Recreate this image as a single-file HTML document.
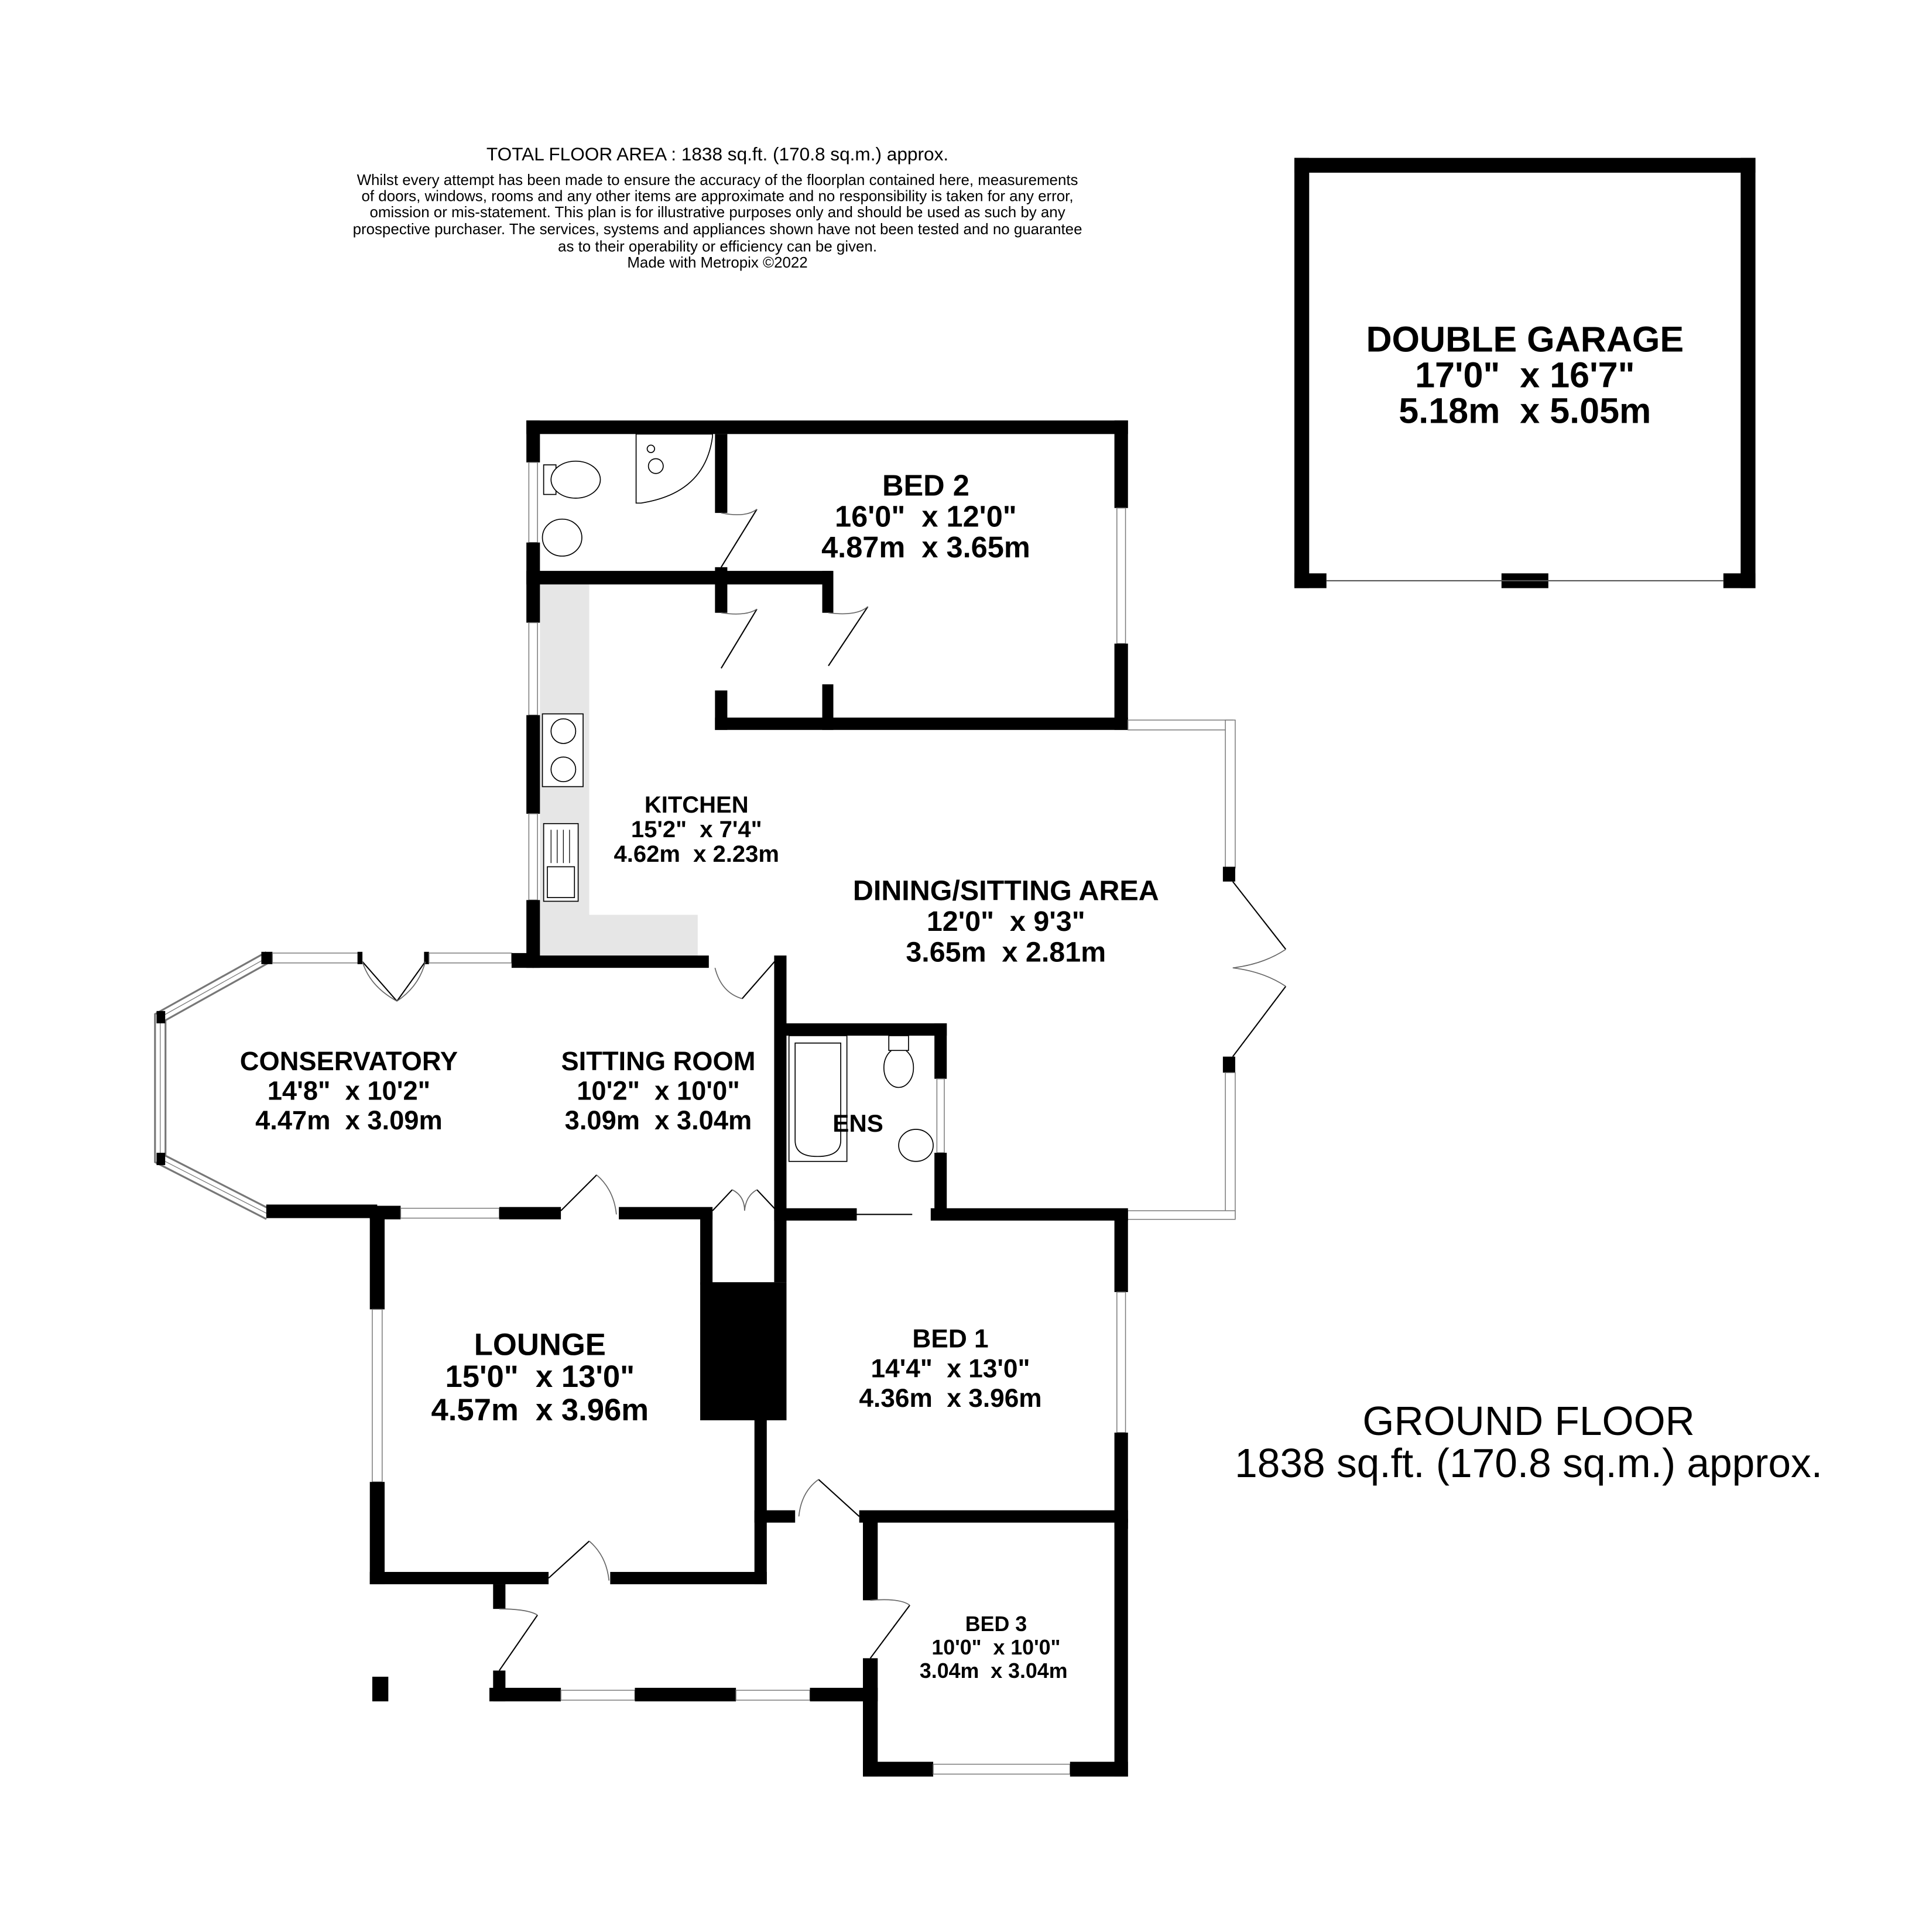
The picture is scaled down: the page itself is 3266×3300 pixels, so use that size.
<!DOCTYPE html>
<html><head><meta charset="utf-8"><style>
html,body{margin:0;padding:0;background:#fff}
svg{display:block}
text{font-family:"Liberation Sans",Arial,sans-serif;text-anchor:middle;white-space:pre}
.b{font-weight:bold}
.w{fill:#000}
.win{fill:#fff;stroke:#777;stroke-width:0.7}
.ln{stroke:#000;stroke-width:1;fill:none}
.arc{stroke:#666;stroke-width:0.8;fill:none}
.fx{fill:#fff;stroke:#000;stroke-width:0.8}
</style></head><body>
<svg width="3266" height="3300" viewBox="0 0 1551 1567" xmlns="http://www.w3.org/2000/svg" xml:space="preserve">
<rect width="1551" height="1567" fill="#fff"/>
<text x="582" y="130" font-size="15">TOTAL FLOOR AREA : 1838 sq.ft. (170.8 sq.m.) approx.</text>
<g font-size="12.3">
<text x="582" y="150">Whilst every attempt has been made to ensure the accuracy of the floorplan contained here, measurements</text>
<text x="582" y="163">of doors, windows, rooms and any other items are approximate and no responsibility is taken for any error,</text>
<text x="582" y="176">omission or mis-statement. This plan is for illustrative purposes only and should be used as such by any</text>
<text x="582" y="190">prospective purchaser. The services, systems and appliances shown have not been tested and no guarantee</text>
<text x="582" y="204">as to their operability or efficiency can be given.</text>
<text x="582" y="217">Made with Metropix ©2022</text>
</g>
<rect class="w" x="1050" y="128" width="374" height="12"/>
<rect class="w" x="1050" y="128" width="12" height="349"/>
<rect class="w" x="1412" y="128" width="12" height="349"/>
<rect class="w" x="1050" y="465" width="26" height="12"/>
<rect class="w" x="1218" y="465" width="38" height="12"/>
<rect class="w" x="1398" y="465" width="26" height="12"/>
<line x1="1076" y1="471" x2="1398" y2="471" stroke="#555" stroke-width="1"/>
<g class="b" font-size="29">
<text x="1237" y="285">DOUBLE GARAGE</text>
<text x="1237" y="314">17'0"  x 16'7"</text>
<text x="1237" y="343">5.18m  x 5.05m</text>
</g>
<text x="1240" y="1164" font-size="33">GROUND FLOOR</text>
<text x="1240" y="1198" font-size="33">1838 sq.ft. (170.8 sq.m.) approx.</text>

<rect x="438" y="474" width="40" height="304" fill="#e6e6e6"/>
<rect x="438" y="742" width="128" height="36" fill="#e6e6e6"/>

<rect class="w" x="427" y="341" width="488" height="11"/>
<rect class="w" x="427" y="341" width="11" height="34"/>
<rect class="win" x="429" y="375" width="7" height="65"/>
<rect class="w" x="427" y="440" width="11" height="65"/>
<rect class="win" x="429" y="505" width="7" height="75"/>
<rect class="w" x="427" y="580" width="11" height="80"/>
<rect class="win" x="429" y="660" width="7" height="70"/>
<rect class="w" x="427" y="730" width="11" height="55"/>
<rect class="w" x="904" y="341" width="11" height="71"/>
<rect class="win" x="906" y="412" width="7" height="110"/>
<rect class="w" x="904" y="522" width="11" height="70"/>
<rect class="w" x="580" y="352" width="10" height="64"/>
<rect class="w" x="427" y="463" width="248" height="11"/>
<rect class="w" x="580" y="460" width="10" height="37"/>
<rect class="w" x="580" y="560" width="10" height="32"/>
<rect class="w" x="667" y="463" width="9" height="34"/>
<rect class="w" x="667" y="555" width="9" height="37"/>
<rect class="w" x="580" y="582" width="335" height="10"/>
<path class="ln" d="M585 460 L614 413"/><path class="arc" d="M585 416 Q605 420 614 413"/>
<path class="ln" d="M585 542 L614 494"/><path class="arc" d="M585 497 Q605 500 614 494"/>
<path class="ln" d="M672 540 L704 492"/><path class="arc" d="M672 497 Q695 500 704 492"/>
<path class="fx" d="M516 352 L516 408 L520 408 Q572 400 578 354 L578 352 Z"/>
<circle class="fx" cx="532" cy="378" r="6"/><circle class="fx" cx="528" cy="364" r="3"/>
<rect class="fx" x="441" y="377" width="10" height="24"/>
<ellipse class="fx" cx="467" cy="389" rx="20" ry="15"/>
<ellipse class="fx" cx="456" cy="436" rx="16" ry="15"/>
<rect class="fx" x="440" y="579" width="33" height="59"/>
<circle class="fx" cx="457" cy="593" r="10"/><circle class="fx" cx="457" cy="624" r="10"/>
<rect class="fx" x="441" y="668" width="28" height="63"/>
<g stroke="#000" stroke-width="0.6"><line x1="447" y1="673" x2="447" y2="700"/><line x1="452" y1="673" x2="452" y2="700"/><line x1="457" y1="673" x2="457" y2="700"/><line x1="462" y1="673" x2="462" y2="700"/></g>
<rect class="fx" x="444" y="703" width="22" height="25"/>

<rect class="win" x="915" y="584" width="85" height="8"/>
<rect class="win" x="994" y="584" width="8" height="120"/>
<rect class="w" x="992" y="703" width="10" height="12"/>
<path class="ln" d="M1000 715 L1043 770 M1000 857 L1043 800"/>
<path class="arc" d="M1000 785 Q1025 782 1043 770 M1000 785 Q1025 788 1043 800"/>
<rect class="w" x="992" y="857" width="10" height="13"/>
<rect class="win" x="994" y="870" width="8" height="118"/>
<rect class="win" x="912" y="982" width="90" height="7"/>

<path d="M218 776 L130 825 L130 940 L218 985" fill="none" stroke="#777" stroke-width="10"/>
<path d="M218 776 L130 825 L130 940 L218 985" fill="none" stroke="#fff" stroke-width="7"/>
<path d="M218 776 L130 825 L130 940 L218 985" fill="none" stroke="#777" stroke-width="0.6"/>
<rect class="w" x="127" y="820" width="7" height="10"/><rect class="w" x="127" y="935" width="7" height="10"/>
<rect class="w" x="212" y="772" width="9" height="10"/>
<rect class="win" x="221" y="773" width="72" height="8"/>
<rect class="w" x="290" y="772" width="4" height="10"/>
<rect class="w" x="344" y="772" width="4" height="10"/>
<rect class="win" x="348" y="773" width="67" height="8"/>
<path class="ln" d="M294 780 L322 812 M345 780 L322 812"/>
<path class="arc" d="M294 780 Q300 800 322 812 M345 780 Q340 800 322 812"/>
<rect class="w" x="415" y="773" width="18" height="12"/>
<rect class="w" x="432" y="775" width="143" height="10"/>
<path class="ln" d="M630 778 L602 810"/><path class="arc" d="M580 785 Q585 805 602 810"/>
<rect class="w" x="628" y="775" width="10" height="265"/>
<rect class="w" x="216" y="977" width="90" height="11"/>

<rect class="w" x="300" y="978" width="25" height="11"/>
<rect class="win" x="325" y="980" width="80" height="8"/>
<rect class="w" x="405" y="979" width="50" height="10"/>
<path class="ln" d="M455 982 L484 953"/><path class="arc" d="M484 953 Q498 965 500 985"/>
<rect class="w" x="502" y="979" width="76" height="10"/>
<path class="ln" d="M578 982 L594 965 M630 982 L614 965"/>
<path class="arc" d="M594 965 Q604 970 604 982 M614 965 Q605 970 604 982"/>

<rect class="w" x="568" y="982" width="10" height="60"/>
<rect class="w" x="568" y="1040" width="70" height="112"/>

<rect class="w" x="630" y="830" width="138" height="10"/>
<rect class="w" x="758" y="830" width="10" height="45"/>
<rect class="win" x="760" y="875" width="6" height="60"/>
<rect class="w" x="758" y="935" width="10" height="53"/>
<rect class="w" x="628" y="980" width="67" height="10"/>
<line x1="695" y1="985" x2="740" y2="985" stroke="#000" stroke-width="1"/>
<rect class="w" x="755" y="980" width="160" height="10"/>
<rect class="fx" x="640" y="840" width="47" height="102"/>
<path class="fx" d="M645 846 L682 846 L682 925 Q682 938 663 938 Q645 938 645 925 Z"/>
<ellipse class="fx" cx="729" cy="866" rx="12" ry="16"/><rect class="fx" x="721" y="840" width="16" height="12"/>
<ellipse class="fx" cx="743" cy="929" rx="14" ry="13"/>
<text class="b" x="696" y="918" font-size="20">ENS</text>

<rect class="w" x="300" y="980" width="12" height="82"/>
<rect class="win" x="302" y="1062" width="8" height="140"/>
<rect class="w" x="300" y="1202" width="12" height="83"/>
<rect class="w" x="300" y="1275" width="145" height="10"/>
<path class="ln" d="M445 1280 L478 1250"/><path class="arc" d="M478 1250 Q492 1262 494 1282"/>
<rect class="w" x="495" y="1275" width="127" height="10"/>
<rect class="w" x="612" y="1150" width="10" height="135"/>

<rect class="w" x="904" y="982" width="11" height="66"/>
<rect class="win" x="906" y="1048" width="7" height="114"/>
<rect class="w" x="904" y="1162" width="11" height="78"/>
<rect class="w" x="612" y="1225" width="33" height="10"/>
<path class="ln" d="M697 1230 L664 1200"/><path class="arc" d="M664 1200 Q650 1210 648 1230"/>
<rect class="w" x="697" y="1225" width="218" height="10"/>

<rect class="w" x="700" y="1232" width="12" height="66"/>
<path class="ln" d="M706 1345 L738 1302"/><path class="arc" d="M706 1298 Q730 1296 738 1302"/>
<rect class="w" x="700" y="1345" width="12" height="96"/>
<rect class="w" x="904" y="1232" width="11" height="209"/>
<rect class="w" x="700" y="1429" width="57" height="12"/>
<rect class="win" x="757" y="1431" width="111" height="8"/>
<rect class="w" x="868" y="1429" width="47" height="12"/>

<rect class="w" x="400" y="1285" width="10" height="20"/>
<path class="ln" d="M405 1355 L436 1310"/><path class="arc" d="M405 1305 Q428 1305 436 1310"/>
<rect class="w" x="400" y="1355" width="10" height="25"/>
<rect class="w" x="397" y="1369" width="58" height="11"/>
<rect class="win" x="455" y="1371" width="60" height="8"/>
<rect class="w" x="515" y="1369" width="82" height="11"/>
<rect class="win" x="597" y="1371" width="60" height="8"/>
<rect class="w" x="657" y="1369" width="55" height="11"/>
<rect class="w" x="302" y="1360" width="13" height="20"/>

<g class="b">
<g font-size="24"><text x="751" y="402">BED 2</text><text x="751" y="427">16'0"  x 12'0"</text><text x="751" y="452">4.87m  x 3.65m</text></g>
<g font-size="19"><text x="565" y="659">KITCHEN</text><text x="565" y="679">15'2"  x 7'4"</text><text x="565" y="699">4.62m  x 2.23m</text></g>
<g font-size="23"><text x="816" y="730">DINING/SITTING AREA</text><text x="816" y="755">12'0"  x 9'3"</text><text x="816" y="780">3.65m  x 2.81m</text></g>
<g font-size="21.5"><text x="283" y="868">CONSERVATORY</text><text x="283" y="892">14'8"  x 10'2"</text><text x="283" y="916">4.47m  x 3.09m</text></g>
<g font-size="21.5"><text x="534" y="868">SITTING ROOM</text><text x="534" y="892">10'2"  x 10'0"</text><text x="534" y="916">3.09m  x 3.04m</text></g>
<g font-size="25"><text x="438" y="1099">LOUNGE</text><text x="438" y="1125">15'0"  x 13'0"</text><text x="438" y="1152">4.57m  x 3.96m</text></g>
<g font-size="21"><text x="771" y="1093">BED 1</text><text x="771" y="1117">14'4"  x 13'0"</text><text x="771" y="1141">4.36m  x 3.96m</text></g>
<g font-size="17"><text x="808" y="1323">BED 3</text><text x="808" y="1342">10'0"  x 10'0"</text><text x="806" y="1361">3.04m  x 3.04m</text></g>
</g>
</svg>
</body></html>
